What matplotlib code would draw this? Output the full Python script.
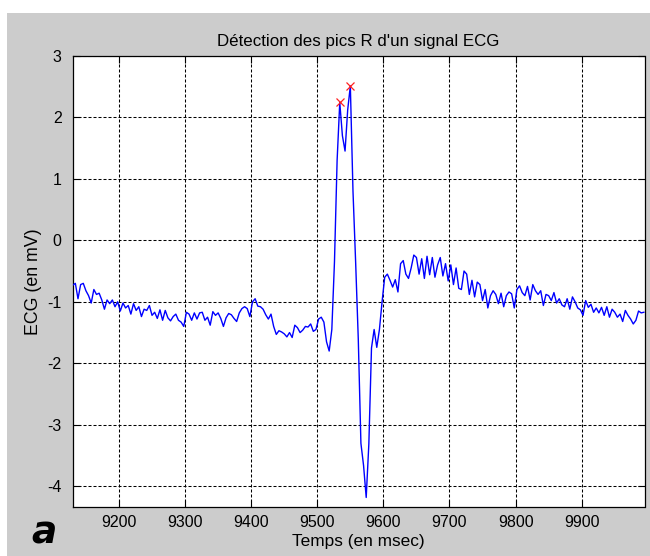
import numpy as np
import matplotlib
matplotlib.use("Agg")
import matplotlib.pyplot as plt
from matplotlib import font_manager
from matplotlib.patches import Rectangle

# ---------------------------------------------------------------------------
# ECG samples (mV), one value every 4 ms starting at 9130 ms
# ---------------------------------------------------------------------------
T_START = 9130
T_STEP = 4

# baseline before the complex, 9130-9350 ms
ecg_baseline = [
    -0.73, -0.70, -0.95, -0.72, -0.70, -0.82, -0.90, -1.02, -0.80, -0.88,
    -0.86, -0.97, -1.12, -0.97, -1.03, -0.97, -1.08, -1.00, -1.15, -1.02,
    -1.10, -1.06, -1.20, -1.03, -1.14, -1.08, -1.24, -1.12, -1.14, -1.06,
    -1.22, -1.17, -1.27, -1.13, -1.30, -1.14, -1.26, -1.31, -1.24, -1.20,
    -1.30, -1.33, -1.40, -1.17, -1.20, -1.30, -1.18, -1.28, -1.18, -1.17,
    -1.30, -1.25, -1.38, -1.16, -1.22, -1.18,
]
# P wave and PR segment, 9354-9510 ms
ecg_pr = [
    -1.27, -1.40, -1.26, -1.19, -1.21, -1.27, -1.32, -1.18, -1.11, -1.08,
    -1.11, -1.24, -1.00, -0.95, -1.07, -1.08, -1.12, -1.21, -1.28, -1.20,
    -1.40, -1.53, -1.47, -1.49, -1.52, -1.57, -1.50, -1.58, -1.38, -1.42,
    -1.50, -1.46, -1.40, -1.41, -1.36, -1.48, -1.45, -1.28, -1.25, -1.33,
]
# QRS complex, 9514-9598 ms
ecg_qrs = [
    -1.65, -1.80, -1.45, -0.35, 1.30, 2.24, 1.70, 1.45, 2.12, 2.51,
    0.80, -0.35, -1.60, -3.30, -3.66, -4.18, -3.31, -1.75, -1.45, -1.74,
    -1.45, -1.00,
]
# ST segment, 9602-9634 ms
ecg_st = [-0.60, -0.55, -0.65, -0.76, -0.64, -0.84, -0.38, -0.33, -0.55]
# T wave, 9638-9802 ms
ecg_t = [
    -0.62, -0.45, -0.24, -0.28, -0.55, -0.30, -0.62, -0.26, -0.56, -0.28,
    -0.60, -0.40, -0.28, -0.58, -0.38, -0.66, -0.40, -0.72, -0.45, -0.78,
    -0.80, -0.50, -0.55, -0.88, -0.65, -0.92, -0.68, -0.72, -0.98, -0.80,
    -1.10, -0.90, -0.82, -0.88, -1.03, -0.86, -1.08, -0.90, -0.84, -0.87,
    -1.10, -0.80,
]
# return to baseline, 9806-9994 ms
ecg_tail = [
    -0.74, -0.85, -0.90, -0.75, -0.97, -0.72, -0.82, -0.88, -0.82, -1.06,
    -0.88, -0.90, -0.98, -0.85, -1.02, -0.95, -1.05, -1.08, -0.95, -1.12,
    -0.92, -1.00, -1.10, -1.13, -1.22, -0.98, -1.09, -1.04, -1.17, -1.10,
    -1.18, -1.09, -1.22, -1.08, -1.25, -1.12, -1.17, -1.25, -1.20, -1.32,
    -1.14, -1.22, -1.28, -1.36, -1.30, -1.15, -1.18, -1.17,
]

# detected R peaks (ms)
r_peak_times = [9534, 9550]

x_ticks = [9200, 9300, 9400, 9500, 9600, 9700, 9800, 9900]
y_ticks = [-4, -3, -2, -1, 0, 1, 2, 3]

title_text = "Détection des pics R d'un signal ECG"
x_label = "Temps (en msec)"
y_label = "ECG (en mV)"
panel_tag = "a"

# ---------------------------------------------------------------------------
ecg = np.array(ecg_baseline + ecg_pr + ecg_qrs + ecg_st + ecg_t + ecg_tail)
t = T_START + T_STEP * np.arange(len(ecg))
r_peak_vals = np.interp(r_peak_times, t, ecg)

installed = set(font_manager.get_font_names())
families = [f for f in ["Liberation Sans", "DejaVu Sans"] if f in installed]
plt.rcParams["font.family"] = families
plt.rcParams["axes.unicode_minus"] = False

W, H = 650, 556
fig = plt.figure(figsize=(W / 100, H / 100), dpi=100, facecolor="white")

# grey window area
fig.patches.append(Rectangle((7 / W, 0), (W - 7) / W, (H - 13) / H,
                             transform=fig.transFigure, facecolor="#cccccc",
                             edgecolor="none", zorder=-10))

ax_l, ax_r, ax_t, ax_b = 72.7, 644.5, 55.7, 506.7
ax = fig.add_axes([ax_l / W, (H - ax_b) / H, (ax_r - ax_l) / W, (ax_b - ax_t) / H])
ax.set_zorder(1)
ax.set_facecolor("white")

ax.plot(t, ecg, color="#0000ff", lw=1.0, zorder=3)
ax.plot(r_peak_times, r_peak_vals, linestyle="none", marker="x", color="#ff2020",
        ms=5.5, mew=0.9, zorder=4)

ax.set_xlim(9130, 9995)
ax.set_ylim(-4.33, 3)
ax.set_xticks(x_ticks)
ax.set_yticks(y_ticks)
ax.grid(True, color="black", lw=0.75, linestyle=(0, (2.9, 1.9)))
ax.set_axisbelow(True)

ax.tick_params(direction="in", length=5, width=0.8, top=True, right=True,
               labelsize=11.5, colors="black")
ax.tick_params(axis="x", pad=6)
ax.tick_params(axis="y", pad=8)
for sp in ax.spines.values():
    sp.set_linewidth(0.9)
    sp.set_color("black")

ax.set_title(title_text, fontsize=12.2, pad=7)
ax.set_xlabel(x_label, fontsize=12.4, labelpad=3)
ax.set_ylabel(y_label, fontsize=12.8, labelpad=4)

fig.text(44 / W, 1 - 533 / H, panel_tag, fontsize=27, fontweight="bold",
         fontstyle="italic", family="DejaVu Sans", ha="center", va="center",
         zorder=2)

fig.savefig("out.png", dpi=100, facecolor=fig.get_facecolor())
